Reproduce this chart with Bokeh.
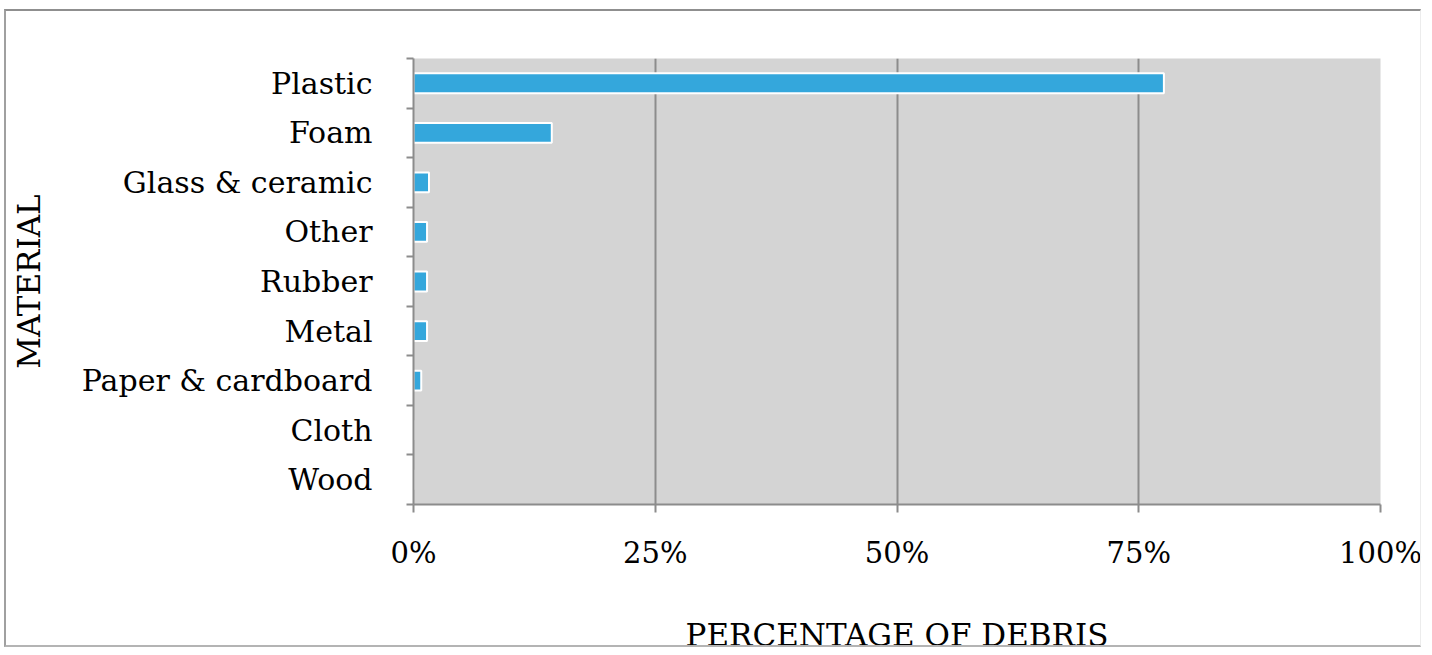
from bokeh.plotting import figure
from bokeh.models import Range1d, FixedTicker, ColumnDataSource, InlineStyleSheet
from bokeh.embed import file_html
from bokeh.resources import INLINE

materials = ["Plastic", "Foam", "Glass & ceramic", "Other", "Rubber", "Metal",
             "Paper & cardboard", "Cloth", "Wood"]
percent = [77.6, 14.3, 1.6, 1.4, 1.4, 1.4, 0.8, 0.0, 0.0]
x_ticks = [0, 25, 50, 75, 100]
x_tick_labels = ["0%", "25%", "50%", "75%", "100%"]

n = len(materials)
ypos = [i + 0.5 for i in range(n)]
src = ColumnDataSource(dict(material=materials, pct=percent, y=ypos))

FONT = "DejaVu Serif"
GRAY = "#8c8c8c"

p = figure(width=1432, height=655, output_backend="svg", toolbar_location=None,
           x_range=Range1d(0, 100), y_range=Range1d(n, 0),
           min_border_left=413, min_border_right=52, min_border_top=58,
           min_border_bottom=151)
p.background_fill_color = "#d4d4d4"
p.border_fill_color = "white"
p.outline_line_color = None

p.hbar(y="y", right="pct", left=0, height=0.40, source=src,
       fill_color="#34a7dc", line_color="white", line_width=2)

# grid
p.ygrid.visible = False
p.xgrid.ticker = FixedTicker(ticks=x_ticks[1:])
p.xgrid.grid_line_color = GRAY
p.xgrid.grid_line_width = 2

# x axis
xa = p.xaxis[0]
xa.ticker = FixedTicker(ticks=x_ticks)
xa.major_label_overrides = {t: l for t, l in zip(x_ticks, x_tick_labels)}
xa.axis_line_color = GRAY
xa.axis_line_width = 2
xa.major_tick_line_color = GRAY
xa.major_tick_line_width = 2
xa.major_tick_out = 8
xa.major_tick_in = 0
xa.minor_tick_out = 0
xa.minor_tick_in = 0
xa.major_label_text_font = FONT
xa.major_label_text_font_size = "29px"
xa.major_label_text_color = "black"
xa.major_label_standoff = 23
xa.axis_label = "PERCENTAGE OF DEBRIS"
xa.axis_label_text_font = FONT
xa.axis_label_text_font_size = "31px"
xa.axis_label_text_font_style = "normal"
xa.axis_label_text_color = "black"
xa.axis_label_standoff = 44

# y axis
ya = p.yaxis[0]
ya.ticker = FixedTicker(ticks=ypos, minor_ticks=list(range(n + 1)))
ya.major_label_overrides = {y: m for y, m in zip(ypos, materials)}
ya.axis_line_color = GRAY
ya.axis_line_width = 2
ya.major_tick_out = 0
ya.major_tick_in = 0
ya.minor_tick_out = 7
ya.minor_tick_in = 0
ya.minor_tick_line_color = GRAY
ya.minor_tick_line_width = 2
ya.major_label_text_font = FONT
ya.major_label_text_font_size = "30px"
ya.major_label_text_color = "black"
ya.major_label_standoff = 34
ya.axis_label = "MATERIAL"
ya.axis_label_text_font = FONT
ya.axis_label_text_font_size = "31px"
ya.axis_label_text_font_style = "normal"
ya.axis_label_text_color = "black"
ya.axis_label_standoff = 32

# outer frame of the chart box (decoration drawn over the canvas)
p.stylesheets = [InlineStyleSheet(css="""
:host { position: relative; }
:host::after {
  content: "";
  position: absolute;
  left: 4px; top: 9px;
  width: 1417px; height: 638px;
  box-sizing: border-box;
  border-top: 2px solid #8f8f8f;
  border-left: 2px solid #a0a0a0;
  border-bottom: 2px solid #b4b4b4;
  border-right: 1px solid #ececec;
  pointer-events: none;
  z-index: 10;
}
""")]

open("out.html", "w").write(file_html(p, INLINE))
